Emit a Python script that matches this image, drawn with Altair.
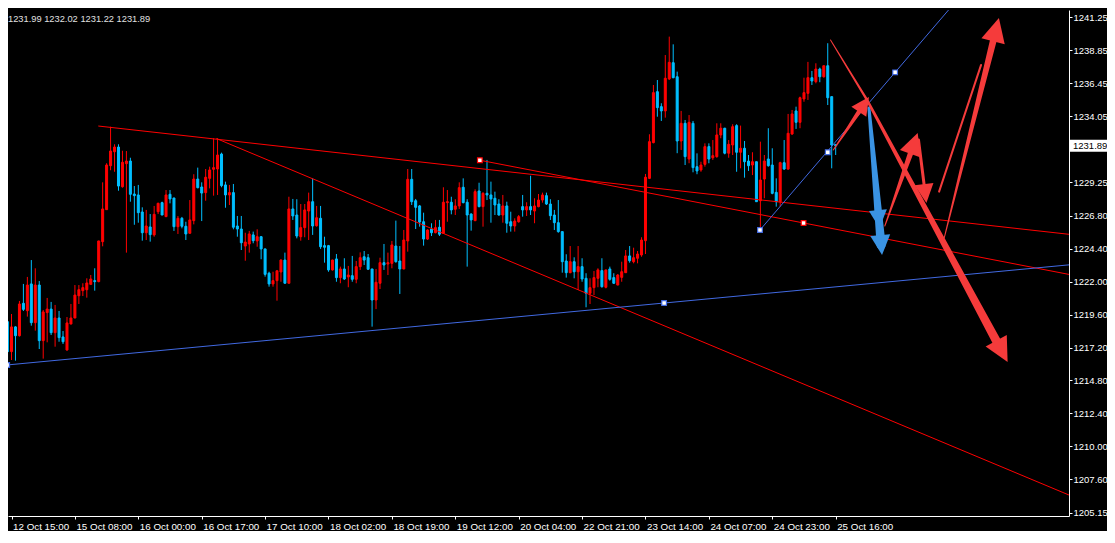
import math
import altair as alt
import pandas as pd

# ---------------- candle data (H1 bars, index 0..209) ----------------
opens = [1219.08, 1216.90, 1218.70, 1218.06, 1220.42, 1219.88, 1221.83, 1219.01, 1221.75, 1217.70,
         1219.74, 1220.00, 1218.28, 1219.35, 1217.97, 1217.02, 1218.91, 1219.35, 1220.97, 1221.34,
         1221.41, 1221.80, 1222.07, 1222.00, 1224.91, 1227.24, 1230.44, 1231.46, 1231.80, 1228.91,
         1230.59, 1230.78, 1228.38, 1228.31, 1227.07, 1225.56, 1225.98, 1225.40, 1227.09, 1227.75,
         1226.73, 1228.36, 1228.09, 1226.00, 1226.61, 1226.03, 1225.52, 1226.44, 1229.47, 1228.89,
         1228.48, 1229.52, 1230.18, 1230.20, 1231.29, 1229.04, 1228.31, 1228.48, 1226.05, 1225.83,
         1224.59, 1224.74, 1225.40, 1224.96, 1225.27, 1224.38, 1222.61, 1221.83, 1222.07, 1222.70,
         1223.57, 1221.88, 1227.29, 1226.85, 1225.27, 1225.93, 1227.14, 1227.82, 1226.07, 1226.61,
         1224.62, 1224.62, 1222.85, 1223.65, 1222.29, 1222.92, 1222.34, 1222.43, 1222.17, 1223.09,
         1223.81, 1223.74, 1222.92, 1220.66, 1221.88, 1223.38, 1223.28, 1223.33, 1224.59, 1223.50,
         1222.92, 1224.96, 1229.45, 1227.89, 1227.51, 1226.36, 1225.10, 1225.83, 1225.56, 1225.96,
         1225.52, 1227.75, 1227.78, 1227.27, 1227.51, 1228.87, 1227.78, 1226.92, 1226.44, 1228.60,
         1227.46, 1228.43, 1228.31, 1228.07, 1227.65, 1226.85, 1227.51, 1226.36, 1226.05, 1226.36,
         1227.46, 1227.22, 1227.46, 1227.14, 1227.46, 1227.94, 1228.26, 1227.65, 1226.85, 1226.29,
         1225.64, 1223.50, 1222.65, 1223.45, 1222.72, 1223.09, 1222.24, 1221.15, 1221.56, 1222.24,
         1222.80, 1221.59, 1222.92, 1222.29, 1221.75, 1222.31, 1222.65, 1223.87, 1223.45, 1223.70,
         1223.94, 1224.98, 1229.52, 1232.12, 1235.83, 1234.74, 1234.43, 1236.76, 1237.94, 1236.92,
         1232.24, 1233.53, 1230.93, 1233.53, 1230.37, 1230.13, 1230.54, 1231.83, 1231.02, 1231.10,
         1232.68, 1233.17, 1231.35, 1231.95, 1233.36, 1231.42, 1231.71, 1230.78, 1230.49, 1230.73,
         1227.89, 1229.47, 1230.93, 1230.49, 1228.50, 1227.82, 1230.66, 1230.20, 1232.75, 1234.43,
         1233.60, 1235.30, 1235.71, 1236.85, 1236.56, 1237.48, 1236.92, 1237.72, 1235.47, 1231.99]
highs = [1219.13, 1219.64, 1218.75, 1220.59, 1221.83, 1222.34, 1223.57, 1222.97, 1222.04, 1219.93,
         1220.81, 1220.52, 1220.30, 1219.86, 1218.40, 1219.42, 1220.37, 1221.75, 1221.75, 1221.88,
         1222.24, 1222.48, 1222.97, 1224.97, 1229.23, 1230.62, 1233.28, 1232.00, 1232.00, 1231.53,
         1231.51, 1231.02, 1228.96, 1229.04, 1227.41, 1227.22, 1226.92, 1227.51, 1227.75, 1227.82,
         1228.67, 1228.67, 1228.10, 1226.78, 1226.71, 1226.36, 1227.94, 1229.82, 1230.30, 1229.23,
         1230.20, 1230.37, 1232.44, 1232.44, 1231.39, 1229.28, 1229.04, 1229.11, 1226.78, 1226.78,
         1225.56, 1225.69, 1225.64, 1225.81, 1225.32, 1224.40, 1222.72, 1222.72, 1222.80, 1223.63,
         1224.11, 1228.18, 1228.02, 1228.00, 1227.65, 1227.65, 1228.48, 1229.52, 1227.51, 1227.51,
         1225.27, 1224.67, 1223.60, 1224.01, 1223.09, 1223.70, 1223.14, 1223.87, 1223.50, 1224.13,
         1224.23, 1224.01, 1222.93, 1222.92, 1223.74, 1224.74, 1224.11, 1224.96, 1226.44, 1224.59,
         1225.76, 1230.20, 1230.20, 1228.02, 1227.58, 1227.02, 1225.81, 1226.25, 1226.49, 1226.49,
         1228.87, 1228.67, 1228.18, 1228.00, 1229.23, 1229.52, 1228.00, 1226.98, 1228.72, 1229.20,
         1228.51, 1230.86, 1229.28, 1228.55, 1228.00, 1228.31, 1227.82, 1227.09, 1226.61, 1226.85,
         1228.31, 1227.78, 1229.71, 1228.07, 1228.38, 1228.48, 1228.48, 1228.00, 1227.22, 1227.94,
         1225.65, 1223.99, 1224.59, 1223.77, 1224.59, 1223.70, 1222.61, 1222.24, 1222.77, 1222.97,
         1223.70, 1222.86, 1223.09, 1222.61, 1222.55, 1223.45, 1224.30, 1224.59, 1224.47, 1224.23,
         1225.23, 1229.84, 1232.73, 1236.32, 1236.68, 1234.99, 1238.50, 1239.84, 1239.28, 1237.29,
         1234.43, 1233.77, 1234.13, 1233.70, 1231.34, 1230.73, 1232.07, 1232.07, 1232.31, 1233.53,
         1233.53, 1233.20, 1232.31, 1233.46, 1233.46, 1233.36, 1232.24, 1231.22, 1231.42, 1230.74,
         1232.19, 1231.22, 1233.17, 1231.71, 1229.52, 1230.73, 1232.31, 1234.21, 1234.50, 1234.74,
         1235.47, 1236.85, 1238.00, 1237.34, 1237.90, 1237.58, 1237.73, 1239.36, 1235.48, 1232.02]
lows = [1216.12, 1216.29, 1216.24, 1218.00, 1219.86, 1219.45, 1218.79, 1218.43, 1217.09, 1216.39,
        1217.58, 1218.11, 1217.26, 1217.62, 1217.46, 1216.97, 1218.90, 1219.33, 1220.37, 1220.95,
        1220.83, 1221.78, 1221.34, 1221.95, 1224.57, 1227.22, 1230.11, 1230.00, 1228.62, 1228.84,
        1224.11, 1227.82, 1226.14, 1226.29, 1224.98, 1225.03, 1224.91, 1225.27, 1226.92, 1226.84,
        1226.72, 1227.70, 1225.69, 1225.47, 1225.88, 1225.03, 1225.50, 1226.17, 1228.79, 1226.41,
        1227.89, 1228.79, 1228.26, 1228.31, 1228.87, 1227.38, 1227.58, 1225.81, 1225.27, 1224.30,
        1223.52, 1224.11, 1224.79, 1224.54, 1223.63, 1222.36, 1221.63, 1221.63, 1220.61, 1221.99,
        1221.87, 1221.87, 1226.49, 1225.15, 1224.98, 1225.23, 1225.03, 1225.40, 1226.00, 1224.38,
        1223.38, 1222.72, 1222.80, 1221.99, 1221.88, 1222.12, 1221.59, 1221.99, 1221.88, 1222.85,
        1223.21, 1222.85, 1218.72, 1220.00, 1221.46, 1222.85, 1222.48, 1222.97, 1223.38, 1221.10,
        1222.90, 1224.18, 1227.58, 1225.83, 1226.00, 1224.62, 1225.03, 1225.32, 1225.52, 1225.32,
        1225.47, 1226.36, 1226.90, 1226.85, 1227.29, 1227.70, 1223.09, 1225.71, 1226.40, 1227.41,
        1226.00, 1227.94, 1226.29, 1226.85, 1226.80, 1226.29, 1225.56, 1225.64, 1225.64, 1226.29,
        1226.73, 1226.78, 1226.85, 1226.25, 1227.41, 1227.75, 1227.58, 1226.49, 1225.76, 1225.56,
        1222.65, 1222.29, 1222.61, 1222.24, 1221.39, 1221.99, 1220.13, 1220.37, 1221.02, 1221.59,
        1221.56, 1221.51, 1222.07, 1221.83, 1221.74, 1221.99, 1222.64, 1223.38, 1223.33, 1223.33,
        1223.81, 1224.01, 1229.47, 1232.07, 1234.01, 1233.70, 1233.94, 1236.68, 1236.81, 1231.35,
        1231.59, 1230.49, 1230.62, 1229.96, 1229.82, 1230.00, 1230.37, 1230.62, 1230.86, 1231.02,
        1232.44, 1231.27, 1231.02, 1231.22, 1230.00, 1230.25, 1229.57, 1230.06, 1229.76, 1227.81,
        1225.76, 1228.07, 1230.37, 1228.36, 1227.46, 1227.46, 1230.13, 1230.13, 1232.68, 1233.12,
        1233.17, 1235.10, 1235.23, 1236.32, 1236.44, 1236.52, 1236.85, 1234.86, 1230.25, 1231.22]
closes = [1216.90, 1218.70, 1218.06, 1220.37, 1219.98, 1221.75, 1219.01, 1221.75, 1217.70, 1219.79,
          1220.00, 1218.28, 1219.35, 1217.92, 1217.62, 1218.99, 1219.35, 1221.02, 1221.41, 1221.56,
          1221.90, 1222.19, 1222.00, 1224.96, 1227.29, 1230.49, 1231.51, 1231.80, 1228.96, 1230.69,
          1230.78, 1228.36, 1228.26, 1227.02, 1225.56, 1226.05, 1225.42, 1226.90, 1227.70, 1226.85,
          1228.31, 1228.02, 1226.00, 1226.61, 1226.03, 1225.47, 1226.49, 1229.47, 1228.84, 1228.45,
          1229.60, 1230.13, 1230.30, 1231.22, 1228.99, 1228.31, 1228.48, 1225.96, 1225.83, 1224.83,
          1224.88, 1225.47, 1224.98, 1225.27, 1224.38, 1222.53, 1221.83, 1222.07, 1222.79, 1223.57,
          1221.88, 1227.29, 1226.78, 1225.32, 1225.93, 1227.22, 1227.82, 1226.05, 1226.65, 1224.54,
          1224.50, 1222.85, 1223.57, 1222.29, 1222.92, 1222.19, 1222.48, 1222.17, 1223.09, 1223.74,
          1223.57, 1222.90, 1220.66, 1221.95, 1223.38, 1223.21, 1223.38, 1224.67, 1223.45, 1222.92,
          1225.03, 1229.45, 1227.82, 1227.41, 1226.34, 1225.10, 1225.76, 1225.56, 1225.93, 1225.45,
          1227.78, 1227.82, 1227.22, 1227.51, 1228.84, 1227.75, 1226.85, 1226.49, 1228.55, 1227.46,
          1228.43, 1228.31, 1228.02, 1227.58, 1226.85, 1227.51, 1226.25, 1226.05, 1226.41, 1226.73,
          1227.22, 1227.46, 1227.22, 1227.51, 1227.94, 1228.31, 1227.65, 1226.80, 1226.29, 1225.64,
          1223.45, 1222.65, 1223.45, 1222.72, 1223.09, 1222.19, 1221.15, 1221.56, 1222.29, 1222.85,
          1221.63, 1222.85, 1222.17, 1221.88, 1222.48, 1222.72, 1223.87, 1223.52, 1223.74, 1224.01,
          1225.03, 1229.60, 1232.19, 1235.76, 1234.67, 1234.43, 1236.81, 1237.97, 1236.85, 1232.24,
          1233.53, 1231.10, 1233.60, 1230.30, 1230.06, 1230.49, 1231.83, 1230.93, 1231.17, 1232.68,
          1233.17, 1231.35, 1232.00, 1233.28, 1231.42, 1231.71, 1230.73, 1230.44, 1230.73, 1227.82,
          1229.40, 1230.78, 1230.44, 1228.43, 1227.82, 1230.66, 1230.20, 1232.80, 1234.21, 1233.60,
          1235.39, 1235.76, 1236.85, 1236.61, 1237.48, 1236.92, 1237.72, 1235.39, 1231.95, 1231.89]

# time axis labels (every 16 bars)
tick_bars = [1, 17, 33, 49, 65, 81, 97, 113, 129, 145, 161, 177, 193, 209]
tick_labels = ["12 Oct 15:00", "15 Oct 08:00", "16 Oct 00:00", "16 Oct 17:00", "17 Oct 10:00",
               "18 Oct 02:00", "18 Oct 19:00", "19 Oct 12:00", "20 Oct 04:00", "22 Oct 21:00",
               "23 Oct 14:00", "24 Oct 07:00", "24 Oct 23:00", "25 Oct 16:00"]
price_ticks = [1241.25, 1238.85, 1236.45, 1234.05, 1229.25, 1226.80, 1224.40, 1222.00,
               1219.60, 1217.20, 1214.80, 1212.40, 1210.00, 1207.60, 1205.15]

# drawn trend lines: two anchors each (bar index, price); rays to the right
tl_names = ["upper", "mid", "steep", "base", "rise"]
tl_bar0 = [22.9, 119.2, 52.7, -0.1, 189.9]
tl_price0 = [1233.33, 1230.84, 1232.42, 1215.93, 1225.76]
tl_bar1 = [86.9, 200.9, 154.4, 165.7, 224.0]
tl_price1 = [1231.27, 1226.27, 1220.15, 1220.44, 1237.24]

# anchor squares of the selected objects
sq_bar = [-0.1, 165.7, 189.9, 207.0, 224.0, 119.2, 200.9]
sq_price = [1215.93, 1220.44, 1225.76, 1231.42, 1237.24, 1230.84, 1226.27]
sq_kind = ["blue", "blue", "blue", "blue", "blue", "red", "red"]

# hand-drawn arrows: tail ... tip (bar index, price)
arrow_a_bar, arrow_a_price = [208.4, 217.4], [1231.59, 1235.45]
arrow_b_bar, arrow_b_price = [217.4, 220.7], [1234.64, 1223.94]
arrow_b_tip2 = [220.06, 1225.90]
arrow_c_bar, arrow_c_price = [221.4, 229.7], [1226.05, 1232.82]
arrow_d_bar, arrow_d_price = [229.9, 231.9], [1232.31, 1227.73]
arrow_e_bar, arrow_e_price = [236.4, 250.2], [1225.18, 1241.20]
arrow_e2_bar, arrow_e2_price = [235.1, 245.7], [1228.55, 1237.78]
arrow_f_bar, arrow_f_price = [207.7, 216.9, 252.4], [1239.60, 1235.23, 1216.15]

# ---------------- styles / geometry ----------------
RED = "#FF0000"
BLUE = "#00BFFF"
LINE_BLUE = "#4169E1"
ARROW_RED = "#F53B3B"
ARROW_BLUE = "#3A93E3"
FONT = "Liberation Sans"

XMIN, XMAX = 1.375, 266.625
YMIN, YMAX = 1204.93, 1241.78
W, H = 1061, 506
PXI = W / (XMAX - XMIN)
PXP = H / (YMAX - YMIN)

xs = alt.Scale(domain=[XMIN, XMAX], nice=False, zero=False)
ys = alt.Scale(domain=[YMIN, YMAX], nice=False, zero=False)


def to_px(b, p):
    return (b - XMIN) * PXI, (YMAX - p) * PXP


def from_px(x, y):
    return x / PXI + XMIN, YMAX - y / PXP


# candles
candles = pd.DataFrame({"bar": list(range(len(opens))), "open": opens, "high": highs,
                        "low": lows, "close": closes})
candles["dir"] = ["up" if c > o else "down" for o, c in zip(opens, closes)]
dir_scale = alt.Scale(domain=["up", "down"], range=[RED, BLUE])

label_expr = " : ".join(f"datum.value == {b} ? '{t}'" for b, t in zip(tick_bars, tick_labels)) + " : ''"

x_axis = alt.Axis(values=tick_bars, labelExpr=label_expr, labelAlign="left", labelBaseline="top",
                  labelPadding=2, labelOffset=1, tickSize=3, tickColor="#FFFFFF", labelColor="#FFFFFF",
                  labelFont=FONT, labelFontSize=9.8, title=None, grid=False, domain=True,
                  domainColor="#FFFFFF", labelOverlap=False, labelFlush=False, labelBound=False)
y_axis = alt.Axis(orient="right", values=price_ticks, format=".2f", labelAlign="left",
                  labelBaseline="middle", labelPadding=1, tickSize=3, tickColor="#FFFFFF",
                  labelColor="#FFFFFF", labelFont=FONT, labelFontSize=9.5, title=None, grid=False,
                  domain=True, domainColor="#FFFFFF", labelOverlap=False, labelFlush=False,
                  labelBound=False)


def X(field):
    return alt.X(field, scale=xs, axis=x_axis, title=None)


def Y(field):
    return alt.Y(field, scale=ys, axis=y_axis, title=None)


wicks = alt.Chart(candles).mark_rule(strokeWidth=1, clip=True).encode(
    x=X("bar:Q"), y=Y("low:Q"), y2="high:Q",
    color=alt.Color("dir:N", scale=dir_scale, legend=None),
)
bodies = alt.Chart(candles).mark_bar(size=2, strokeWidth=1, clip=True).encode(
    x=X("bar:Q"), y=Y("open:Q"), y2="close:Q",
    color=alt.Color("dir:N", scale=dir_scale, legend=None),
    stroke=alt.Stroke("dir:N", scale=dir_scale, legend=None),
)

# trend lines extended to the right edge (rays)
tl_rows = []
for n, b0, p0, b1, p1 in zip(tl_names, tl_bar0, tl_price0, tl_bar1, tl_price1):
    col = LINE_BLUE if n in ("base", "rise") else RED
    b_end = 272.0
    p_end = p0 + (p1 - p0) * (b_end - b0) / (b1 - b0)
    tl_rows.append({"name": n, "k": 0, "bar": b0, "price": p0, "col": col})
    tl_rows.append({"name": n, "k": 1, "bar": b_end, "price": p_end, "col": col})
tl_df = pd.DataFrame(tl_rows)
trend = alt.Chart(tl_df).mark_line(strokeWidth=1, clip=True).encode(
    x=X("bar:Q"), y=Y("price:Q"),
    detail="name:N", order="k:Q",
    color=alt.Color("col:N", scale=None),
)

sq_df = pd.DataFrame({"bar": sq_bar, "price": sq_price,
                      "col": [LINE_BLUE if k == "blue" else RED for k in sq_kind]})
squares = alt.Chart(sq_df).mark_square(size=22, filled=True, fill="#FFFFFF", strokeWidth=1.2,
                                       opacity=1, clip=True).encode(
    x=X("bar:Q"), y=Y("price:Q"),
    stroke=alt.Stroke("col:N", scale=None),
)

# arrows: (id, bars, prices, widths along shaft, head length px, colour)
arrow_specs = [
    ("a", arrow_a_bar, arrow_a_price, [1, 5], 18, ARROW_RED),
    ("b", arrow_b_bar, arrow_b_price, [3, 9], 20, ARROW_BLUE),
    ("c", arrow_c_bar, arrow_c_price, [1, 6], 22, ARROW_RED),
    ("d", arrow_d_bar, arrow_d_price, [3, 3], 19, ARROW_RED),
    ("e", arrow_e_bar, arrow_e_price, [1, 7], 24, ARROW_RED),
    ("e2", arrow_e2_bar, arrow_e2_price, [2, 2], 0, ARROW_RED),
    ("f", arrow_f_bar, arrow_f_price, [1, 2.5, 9], 24, ARROW_RED),
]
trail_rows, head_rows = [], []
for aid, bs, ps, ws, hl, col in arrow_specs:
    pts = [to_px(b, p) for b, p in zip(bs, ps)]
    (x0, y0), (x1, y1) = pts[-2], pts[-1]
    dx, dy = x1 - x0, y1 - y0
    ln = math.hypot(dx, dy)
    ux, uy = dx / ln, dy / ln
    ang = math.degrees(math.atan2(dx, -dy)) % 360
    shaft = list(pts)
    if hl:
        shaft[-1] = (x1 - 0.5 * hl * ux, y1 - 0.5 * hl * uy)
        head_rows.append({"bar": bs[-1], "price": ps[-1], "ang": ang, "sz": (2 * hl) ** 2, "col": col})
        if aid == "b":
            head_rows.append({"bar": arrow_b_tip2[0], "price": arrow_b_tip2[1], "ang": ang,
                              "sz": (2 * 18) ** 2, "col": col})
    for k, ((x, y), w) in enumerate(zip(shaft, ws)):
        b, p = from_px(x, y)
        trail_rows.append({"aid": aid, "k": k, "bar": b, "price": p, "w": w, "col": col})

trails = alt.Chart(pd.DataFrame(trail_rows)).mark_trail(clip=True).encode(
    x=X("bar:Q"), y=Y("price:Q"),
    size=alt.Size("w:Q", scale=None, legend=None),
    detail="aid:N", order="k:Q",
    color=alt.Color("col:N", scale=None),
)
heads = alt.Chart(pd.DataFrame(head_rows)).mark_point(
    shape="M0,0L-0.5,1L0.5,1Z", filled=True, opacity=1, strokeWidth=0, clip=True).encode(
    x=X("bar:Q"), y=Y("price:Q"),
    angle=alt.Angle("ang:Q", scale=None),
    size=alt.Size("sz:Q", scale=None, legend=None),
    color=alt.Color("col:N", scale=None),
)

# header with last bar OHLC
last = len(opens) - 1
header_txt = f"{opens[last]:.2f} {highs[last]:.2f} {lows[last]:.2f} {closes[last]:.2f}"
header = alt.Chart(pd.DataFrame({"t": [header_txt]})).mark_text(
    align="left", baseline="middle", font=FONT, fontSize=9.3, color="#E0E0E0").encode(
    text="t:N", x=alt.value(0), y=alt.value(9))

# current price marker on the price axis
cur_df = pd.DataFrame({"price": [closes[last]], "lbl": [f"{closes[last]:.2f}"]})
cur_box = alt.Chart(cur_df).mark_rule(strokeWidth=12, color="#FFFFFF").encode(
    x=alt.value(W + 1), x2=alt.value(W + 38), y=Y("price:Q"))
cur_txt = alt.Chart(cur_df).mark_text(align="left", baseline="middle", font=FONT, fontSize=9.5,
                                      color="#000000").encode(
    x=alt.value(W + 4), y=Y("price:Q"), text="lbl:N")

chart = alt.layer(wicks, bodies, trend, squares, trails, heads, header, cur_box, cur_txt).properties(
    width=W, height=H,
    padding={"left": 0, "top": 2, "right": 38, "bottom": 15},
    autosize=alt.AutoSizeParams(type="none"),
    background="#000000",
).configure_view(stroke=None)

chart.save("out.html", embed_options={"renderer": "svg", "actions": False})
